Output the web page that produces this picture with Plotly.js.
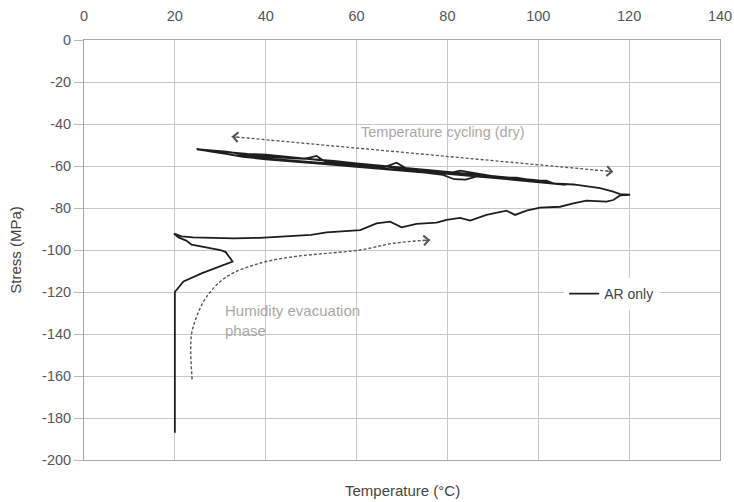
<!DOCTYPE html>
<html>
<head>
<meta charset="utf-8">
<script src="https://cdn.plot.ly/plotly-3.0.1.min.js"></script>
<style>html,body{margin:0;padding:0;background:#fff;}#chart{width:734px;height:502px;}</style>
</head>
<body>
<div id="chart"></div>
<script>
// AR only: temperature (°C) and stress (MPa), in measurement order
const arTemperature = [
  20,20,20,21.9,26,32.7,31.2,30,23.7,22.5,20.8,19.8,21.5,24,28,33,38.7,42.4,46.1,50,53.4,57,60.8,64.4,67.4,69.9,73.2,77.6,79.8,82.8,85,88.6,93,94.9,97.4,100.4,104.8,107.7,110.6,115,116.5,118,120.2,
  118,116.5,113.6,110.6,107.7,103.3,101.8,98.9,95.2,91.6,87.9,85.7,82.8,80.2,75,71,68.8,66,63.7,57.1,53,51.2,48.5,46.1,40,36.5,31.4,28,24.8,
  26,30,35,40,45,50,55,60,65,70,75,79,81.5,84,86.5,90,94,98,102,106,
  104,100,96,92,88,84,80,76,72,68,64,60,56,52,48,44,40,36,32,28,25.5,
  28,33,38,43,48,53,58,63,68,73,78,83,88,93,98,103,
  100,95,90,85,80,75,70,65,60,55,50,45,40,35,30,27,25
];
const arStress = [
  -187,-150,-120,-115,-111,-105.5,-101,-100,-97.5,-95.5,-94,-92.2,-93.5,-94,-94.3,-94.5,-94.2,-93.7,-93,-92.8,-91.6,-91,-90.5,-87.3,-86.5,-89.2,-87.6,-87,-85.7,-84.7,-86,-83.3,-81.3,-83.3,-81.3,-79.8,-79.4,-77.8,-76.5,-77,-76.2,-74,-73.7,
  -73.4,-72.2,-70.5,-69.5,-68.8,-68.3,-67,-66.8,-65.6,-65.4,-64,-63,-62.2,-63.5,-62.2,-61.2,-58.4,-60.6,-60.4,-58.7,-57.8,-55.2,-56.6,-56.3,-55.4,-55,-53.2,-52.6,-52,
  -52.4,-53.8,-55.6,-56.8,-57.6,-58.5,-59.4,-60.4,-61.3,-62.2,-63.2,-64.2,-66.3,-66.5,-65,-65.6,-66.4,-67.4,-68.2,-69,
  -68.4,-67.2,-66.2,-65.2,-64.4,-63.7,-63.2,-62.6,-61.8,-60.6,-59.8,-59.2,-58.1,-57.2,-56.1,-55.4,-54.6,-54.2,-53.4,-52.8,-52.2,
  -53.2,-54.8,-56,-56.8,-57.6,-58.6,-59.8,-60.6,-61.6,-62.4,-63.4,-64.4,-65.2,-66.2,-67,-68,
  -66.8,-65.8,-64.8,-63.8,-63,-62,-61,-60,-58.8,-57.6,-56.8,-55.8,-55,-54.2,-53,-52.4,-52.2
];

// guide arrows
const cyclingArrowT = [32.5, 116.5];
const cyclingArrowS = [-46, -62.7];
const humidityArrowT = [23.8, 23.5, 23.7, 24.8, 27, 31.4, 38.7, 46.1, 53.4, 60.8, 68.1, 76.2];
const humidityArrowS = [-161.6, -149, -139.7, -131.7, -122.2, -112.7, -106.3, -103.2, -101.6, -100, -96.8, -95.2];

const xTicks = [0, 20, 40, 60, 80, 100, 120, 140];
const yTicks = [0, -20, -40, -60, -80, -100, -120, -140, -160, -180, -200];

const FONT = 'Liberation Sans, Arial, sans-serif';
const GUIDE = '#555555';

// plot-area size in px, used only to orient arrowheads
const PW = 734 - 84 - 14, PH = 502 - 40 - 42;

function head(xs, ys, i, j) {
  // arrowhead at point i, oriented along the direction from point j
  const dxp = (xs[i] - xs[j]) / 140 * PW;
  const dyp = -(ys[i] - ys[j]) / 200 * PH;
  const len = Math.hypot(dxp, dyp);
  return {
    x: xs[i], y: ys[i], ax: -dxp / len * 9, ay: -dyp / len * 9,
    xref: 'x', yref: 'y',
    showarrow: true, arrowhead: 4, arrowsize: 1.9, arrowwidth: 1, arrowcolor: GUIDE, text: ''
  };
}

const traces = [
  {
    x: cyclingArrowT, y: cyclingArrowS, mode: 'lines', showlegend: false, hoverinfo: 'skip',
    line: {color: GUIDE, width: 1.3, dash: '3px,2px'}
  },
  {
    x: humidityArrowT, y: humidityArrowS, mode: 'lines', showlegend: false, hoverinfo: 'skip',
    line: {color: GUIDE, width: 1.4, dash: '3px,2px', shape: 'spline'}
  },
  {
    x: arTemperature, y: arStress, mode: 'lines', name: 'AR only',
    line: {color: '#1e1e1e', width: 1.8}
  }
];

const nH = humidityArrowT.length;
const layout = {
  width: 734, height: 502,
  margin: {l: 84, r: 14, t: 40, b: 42},
  paper_bgcolor: '#ffffff', plot_bgcolor: '#ffffff',
  font: {family: FONT, size: 14, color: '#555'},
  xaxis: {
    side: 'top', range: [0, 140], tickvals: xTicks, ticktext: xTicks.map(String),
    showgrid: true, gridcolor: '#c8c8c8', gridwidth: 1, zeroline: false,
    showline: true, linecolor: '#a8a8a8', mirror: true,
    ticks: '', ticklabelstandoff: 12, automargin: false,
    tickfont: {family: FONT, size: 14.5, color: '#555'}
  },
  yaxis: {
    range: [-200, 0], tickvals: yTicks, ticktext: yTicks.map(String),
    showgrid: true, gridcolor: '#c8c8c8', gridwidth: 1, zeroline: false,
    showline: true, linecolor: '#a8a8a8', mirror: true,
    ticks: 'outside', ticklen: 9, tickcolor: '#b8b8b8', automargin: false,
    tickfont: {family: FONT, size: 14.5, color: '#555'},
    title: {text: 'Stress (MPa)', font: {family: FONT, size: 15, color: '#444'}, standoff: 16}
  },
  legend: {
    x: 0.755, y: 0.395, xanchor: 'left', yanchor: 'middle',
    bgcolor: '#ffffff', borderwidth: 0, itemwidth: 30,
    font: {family: FONT, size: 14, color: '#444'}
  },
  annotations: [
    {text: 'Temperature (°C)', xref: 'paper', yref: 'paper', x: 0.5, y: -0.072, xanchor: 'center', yanchor: 'middle',
     showarrow: false, font: {family: FONT, size: 15, color: '#444'}},
    {text: 'Temperature cycling (dry)', xref: 'x', yref: 'y', x: 60.5, y: -43.8, xanchor: 'left', yanchor: 'middle',
     showarrow: false, font: {family: FONT, size: 14.5, color: '#a8a8a8'}},
    {text: 'Humidity evacuation<br>phase', xref: 'x', yref: 'y', x: 30.7, y: -133.8, xanchor: 'left', yanchor: 'middle', align: 'left',
     showarrow: false, font: {family: FONT, size: 15, color: '#a8a8a8'}},
    head(cyclingArrowT, cyclingArrowS, 0, 1),
    head(cyclingArrowT, cyclingArrowS, 1, 0),
    head(humidityArrowT, humidityArrowS, nH - 1, nH - 2)
  ]
};

Plotly.newPlot('chart', traces, layout, {displayModeBar: false, staticPlot: true});
</script>
</body>
</html>
